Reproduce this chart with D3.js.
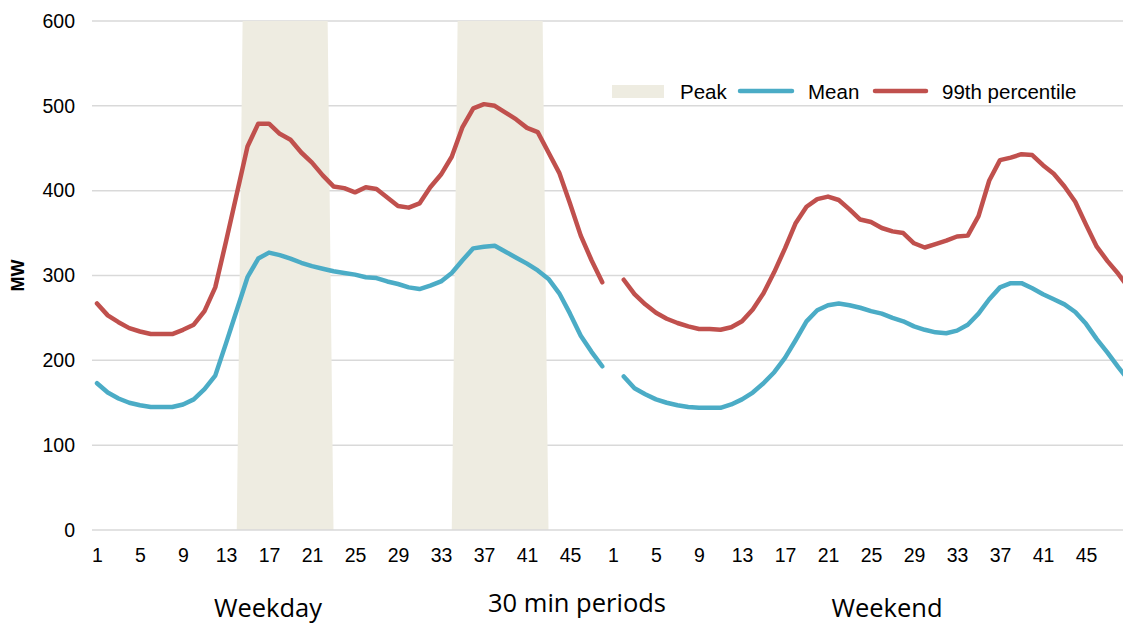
<!DOCTYPE html>
<html>
<head>
<meta charset="utf-8">
<script src="https://cdn.jsdelivr.net/npm/d3@7"></script>
<style>
  body { margin: 0; background: #fff; }
  text { font-family: "Liberation Sans", Arial, sans-serif; fill: #000; }
</style>
</head>
<body>
<div id="chart"></div>
<script>
// Half-hour periods, 48 per day
const periods = d3.range(1, 49);
const tickPeriods = [1, 5, 9, 13, 17, 21, 25, 29, 33, 37, 41, 45];
const yTicks = [0, 100, 200, 300, 400, 500, 600];

const weekdayMean = [173, 162, 155, 150, 147, 145, 145, 145, 148, 154, 166, 182, 220, 259, 298, 320,
  327, 324, 320, 315, 311, 308, 305, 303, 301, 298, 297, 293, 290, 286, 284, 288,
  293, 303, 318, 332, 334, 335, 328, 321, 314, 306, 296, 279, 255, 229, 210, 193];
const weekdayP99 = [267, 253, 245, 238, 234, 231, 231, 231, 236, 242, 258, 286, 340, 396, 452, 479,
  479, 467, 460, 445, 433, 418, 405, 403, 398, 404, 402, 392, 382, 380, 385, 404,
  419, 440, 475, 497, 502, 500, 492, 484, 474, 469, 445, 421, 385, 347, 318, 292];
const weekendMean = [181, 167, 160, 154, 150, 147, 145, 144, 144, 144, 148, 154, 162, 173, 186, 203,
  224, 246, 259, 265, 267, 265, 262, 258, 255, 250, 246, 240, 236, 233, 232, 235,
  242, 255, 272, 286, 291, 291, 285, 278, 272, 266, 257, 243, 225, 209, 192, 176];
const weekendP99 = [295, 278, 266, 256, 249, 244, 240, 237, 237, 236, 239, 246, 260, 279, 304, 332,
  362, 381, 390, 393, 389, 378, 366, 363, 356, 352, 350, 338, 333, 337, 341, 346,
  347, 370, 412, 436, 439, 443, 442, 430, 420, 405, 387, 360, 334, 317, 302, 285];
// Peak series (weekday only), runs past the axis top and gets clipped
const weekdayPeak = [0, 0, 0, 0, 0, 0, 0, 0, 0, 0, 0, 0, 0, 0, 1100, 1100,
  1100, 1100, 1100, 1100, 1100, 1100, 0, 0, 0, 0, 0, 0, 0, 0, 0, 0,
  0, 0, 1100, 1100, 1100, 1100, 1100, 1100, 1100, 1100, 0, 0, 0, 0, 0, 0];

const colors = { mean: "#4bacc6", p99: "#c0504d", peak: "#eeece1", grid: "#d9d9d9" };

const width = 1123, height = 626;
const plot = { left: 92, right: 1123, top: 21, bottom: 530 };

const svg = d3.select("#chart").append("svg")
  .attr("width", width)
  .attr("height", height);

// position index: weekday period p -> p-1, weekend labels start at 48
const x = d3.scaleLinear().domain([0, 96]).range([97, 1129]);
const y = d3.scaleLinear().domain([0, 600]).range([plot.bottom, plot.top]);

svg.append("clipPath").attr("id", "plot-clip")
  .append("rect")
  .attr("x", plot.left).attr("y", plot.top)
  .attr("width", plot.right - plot.left).attr("height", plot.bottom - plot.top);

// gridlines
svg.append("g").selectAll("line")
  .data(yTicks.filter(d => d > 0))
  .join("line")
  .attr("x1", plot.left).attr("x2", plot.right)
  .attr("y1", d => y(d)).attr("y2", d => y(d))
  .attr("stroke", colors.grid).attr("stroke-width", 1.5);

// peak shading
const peakArea = d3.area()
  .x((d, i) => x(i))
  .y0(y(0))
  .y1(d => y(d));

svg.append("path")
  .datum(weekdayPeak)
  .attr("clip-path", "url(#plot-clip)")
  .attr("fill", colors.peak)
  .attr("d", peakArea);

// baseline
svg.append("line")
  .attr("x1", plot.left).attr("x2", plot.right)
  .attr("y1", y(0)).attr("y2", y(0))
  .attr("stroke", colors.grid).attr("stroke-width", 1.5);

// y axis labels
svg.append("g").selectAll("text")
  .data(yTicks)
  .join("text")
  .attr("x", 75)
  .attr("y", d => y(d))
  .attr("dy", "0.35em")
  .attr("text-anchor", "end")
  .attr("font-size", 19.5)
  .text(d => d);

svg.append("text")
  .attr("transform", `translate(24,${y(300)}) rotate(-90)`)
  .attr("text-anchor", "middle")
  .attr("font-size", 18)
  .attr("font-weight", "bold")
  .text("MW");

// x axis: weekday ticks then weekend ticks
const tickPos = tickPeriods.map(p => p - 1).concat(tickPeriods.map(p => 48 + p - 1));
const xAxis = d3.axisBottom(x)
  .tickValues(tickPos)
  .tickSize(0)
  .tickPadding(18)
  .tickFormat(d => d < 48 ? d + 1 : d - 47);

svg.append("g")
  .attr("transform", `translate(0,${plot.bottom})`)
  .call(xAxis)
  .call(g => g.select(".domain").remove())
  .call(g => g.selectAll("text")
    .attr("font-size", 19.5)
    .attr("font-family", "Liberation Sans, Arial, sans-serif")
    .attr("fill", "#000"));

// lines
const line = d3.line()
  .x(d => x(d.pos))
  .y(d => y(d.v));

const series = [
  { key: "wdP99", color: colors.p99, pts: weekdayP99.map((v, i) => ({ pos: periods[i] - 1, v })) },
  { key: "wdMean", color: colors.mean, pts: weekdayMean.map((v, i) => ({ pos: periods[i] - 1, v })) },
  { key: "weP99", color: colors.p99, pts: weekendP99.map((v, i) => ({ pos: 48 + periods[i], v })) },
  { key: "weMean", color: colors.mean, pts: weekendMean.map((v, i) => ({ pos: 48 + periods[i], v })) },
];

svg.append("g").selectAll("path")
  .data(series)
  .join("path")
  .attr("fill", "none")
  .attr("stroke", d => d.color)
  .attr("stroke-width", 4.5)
  .attr("stroke-linejoin", "round")
  .attr("stroke-linecap", "round")
  .attr("d", d => line(d.pts));

// legend
const legend = svg.append("g").attr("class", "legend");
legend.append("rect")
  .attr("x", 612).attr("y", 85).attr("width", 52).attr("height", 13)
  .attr("fill", colors.peak);
legend.append("text").attr("x", 680).attr("y", 98.5).attr("font-size", 20.5).text("Peak");
legend.append("line")
  .attr("x1", 740).attr("x2", 792).attr("y1", 91).attr("y2", 91)
  .attr("stroke", colors.mean).attr("stroke-width", 4.5).attr("stroke-linecap", "round");
legend.append("text").attr("x", 808).attr("y", 98.5).attr("font-size", 20.5).text("Mean");
legend.append("line")
  .attr("x1", 875).attr("x2", 926).attr("y1", 91).attr("y2", 91)
  .attr("stroke", colors.p99).attr("stroke-width", 4.5).attr("stroke-linecap", "round");
legend.append("text").attr("x", 942).attr("y", 98.5).attr("font-size", 20.5).text("99th percentile");

// category titles
const titles = [
  { label: "Weekday", x: 268, y: 617 },
  { label: "30 min periods", x: 577, y: 612 },
  { label: "Weekend", x: 887, y: 617 },
];
svg.append("g").selectAll("text")
  .data(titles)
  .join("text")
  .attr("x", d => d.x).attr("y", d => d.y)
  .attr("text-anchor", "middle")
  .attr("font-size", 25.5)
  .style("font-family", "'Open Sans', sans-serif")
  .text(d => d.label);
</script>
</body>
</html>
